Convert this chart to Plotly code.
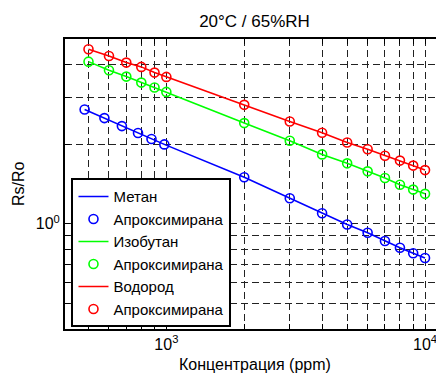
import plotly.graph_objects as go

# ---- data ----
x_main = [500, 600, 700, 800, 900, 1000, 2000, 3000, 4000, 5000, 6000, 7000, 8000, 9000, 10000]
x_metan = [483, 576, 673, 777, 876, 982, 2000, 3000, 4000, 5000, 6000, 7000, 8000, 9000, 10000]

metan = [2.706, 2.511, 2.342, 2.204, 2.093, 1.997, 1.499, 1.249, 1.096, 0.994, 0.925, 0.861, 0.812, 0.774, 0.742]
izobutan = [4.106, 3.810, 3.604, 3.421, 3.276, 3.155, 2.404, 2.062, 1.830, 1.693, 1.579, 1.491, 1.406, 1.347, 1.298]
vodorod = [4.573, 4.314, 4.071, 3.922, 3.732, 3.594, 2.818, 2.438, 2.210, 2.031, 1.915, 1.810, 1.734, 1.660, 1.596]

series_names = ["Метан", "Изобутан", "Водород"]
fit_name = "Апроксимирана"
colors = ["#0000FF", "#00FF00", "#FF0000"]

x_tickvals = [500, 600, 700, 800, 900, 1000, 2000, 3000, 4000, 5000, 6000, 7000, 8000, 9000, 10000]
x_ticktext = ["", "", "", "", "", "10<sup>3</sup>", "", "", "", "", "", "", "", "", "10<sup>4</sup>"]
y_tickvals = [0.5, 0.6, 0.7, 0.8, 0.9, 1, 2, 3, 4]
y_ticktext = ["", "", "", "", "", "10<sup>0</sup>", "", "", ""]

title_text = "20°C / 65%RH"
x_title = "Концентрация (ppm)"
y_title = "Rs/Ro"

FONT = "Liberation Sans, Arial, sans-serif"

# the page body has an 8px default margin, so the figure is drawn 8px in from the corner
W, H = 436, 365

fig = go.Figure()
for name, xs, ys, c in zip(series_names, [x_metan, x_main, x_main],
                           [metan, izobutan, vodorod], colors):
    fig.add_trace(go.Scatter(x=xs, y=ys, mode="lines", name=name,
                             line=dict(color=c, width=1.6)))
    fig.add_trace(go.Scatter(x=xs, y=ys, mode="markers", name=fit_name,
                             marker=dict(symbol="circle-open", size=9, color=c,
                                         line=dict(color=c, width=1.6))))

axis_common = dict(
    type="log",
    showline=True, linecolor="black", linewidth=2,
    ticks="inside", ticklen=5, tickcolor="black", tickwidth=1,
    showgrid=True, gridcolor="#222222", gridwidth=1, griddash="7px,4px",
    zeroline=False, automargin=False,
    tickfont=dict(family=FONT, size=16, color="black"),
)

fig.update_xaxes(
    **axis_common,
    range=[2.6081, 4.0734],
    tickmode="array", tickvals=x_tickvals, ticktext=x_ticktext,
    mirror="allticks",
)
fig.update_yaxes(
    **axis_common,
    range=[-0.3979, 0.699],
    tickmode="array", tickvals=y_tickvals, ticktext=y_ticktext,
    mirror=False,
)

fig.update_layout(
    width=W, height=H,
    margin=dict(l=56.5, r=0, t=30.5, b=43.7, autoexpand=False),
    paper_bgcolor="white", plot_bgcolor="white",
    font=dict(family=FONT, size=16, color="black"),
    title=dict(text=title_text, x=0.5, xref="paper", xanchor="center",
               y=1 - 13 / H, yref="container", yanchor="middle",
               font=dict(family=FONT, size=17, color="black")),
    legend=dict(x=0.0171, y=0.006, xanchor="left", yanchor="bottom",
                bgcolor="white", bordercolor="black", borderwidth=2,
                font=dict(family=FONT, size=15, color="black"),
                tracegroupgap=0, itemwidth=30),
    showlegend=True,
    annotations=[
        dict(text=x_title, xref="paper", yref="paper", x=0.5, y=0.0,
             yshift=-35, xanchor="center", yanchor="middle", showarrow=False,
             font=dict(family=FONT, size=16, color="black")),
        dict(text=y_title, xref="paper", yref="paper", x=0, y=0.5,
             xshift=-47, xanchor="center", yanchor="middle", textangle=-90,
             showarrow=False, font=dict(family=FONT, size=16, color="black")),
    ],
)

fig.write_html("out.html")
